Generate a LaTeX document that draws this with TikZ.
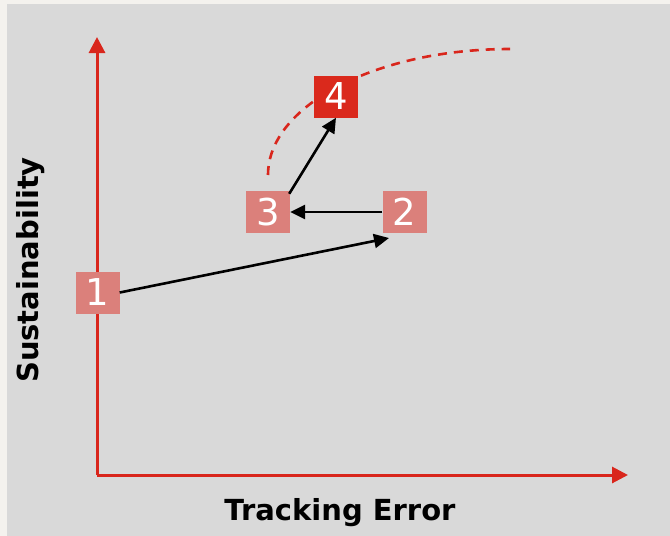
\documentclass[tikz,border=0pt]{standalone}
\usepackage{fontspec}
\setmainfont{DejaVu Sans}
\usetikzlibrary{arrows.meta}
\definecolor{outerbg}{HTML}{F4F2EE}
\definecolor{panel}{HTML}{D9D9D9}
\definecolor{axisred}{HTML}{D9261C}
\definecolor{boxpink}{HTML}{DB807B}
\definecolor{boxred}{HTML}{DA291C}
\tikzset{
  axis/.style={draw=axisred, line width=3pt, -{Triangle[length=16pt,width=16pt]}},
  numbox/.style={minimum width=44pt, minimum height=42pt, inner sep=0pt, text=white, font=\fontsize{37}{37}\selectfont},
  conn/.style={draw=black, line width=2.6pt, -{Triangle[length=15pt,width=14pt]}},
  axlabel/.style={font=\fontsize{29}{29}\selectfont\bfseries, text=black, inner sep=0pt}
}
\begin{document}
\begin{tikzpicture}[x=1pt, y=-1pt]
\useasboundingbox (0,0) rectangle (670,536);
\fill[outerbg] (0,0) rectangle (670,536);
\fill[panel] (7,4) rectangle (670,536);
\coordinate (origin) at (97,475);
\coordinate (ytip) at (97,37);
\coordinate (xtip) at (628,475);
\draw[axis] (origin) -- (ytip);
\draw[axis] (origin) -- (xtip);
\draw[axisred, line width=2.6pt, dash pattern=on 9pt off 7pt] (268,175) arc[start angle=180, end angle=270, x radius=242, y radius=126];
\node[numbox, fill=boxpink] (n1) at (97.5,292.5) {1};
\node[numbox, fill=boxpink] (n2) at (404.5,212) {2};
\node[numbox, fill=boxpink] (n3) at (268,212) {3};
\node[numbox, fill=boxred] (n4) at (336,96.5) {4};
\coordinate (e2) at (389,238);
\draw[conn] (n1.east) -- (e2);
\draw[conn] (n2.west) -- (n3.east);
\draw[conn] ([xshift=-1pt,yshift=-3pt]n3.north east) -- (n4.south);
\node[axlabel, anchor=base] (xl) at (340,520) {Tracking Error};
\node[axlabel, rotate=90] (yl) at (31,270) {Sustainability};
\end{tikzpicture}
\end{document}
